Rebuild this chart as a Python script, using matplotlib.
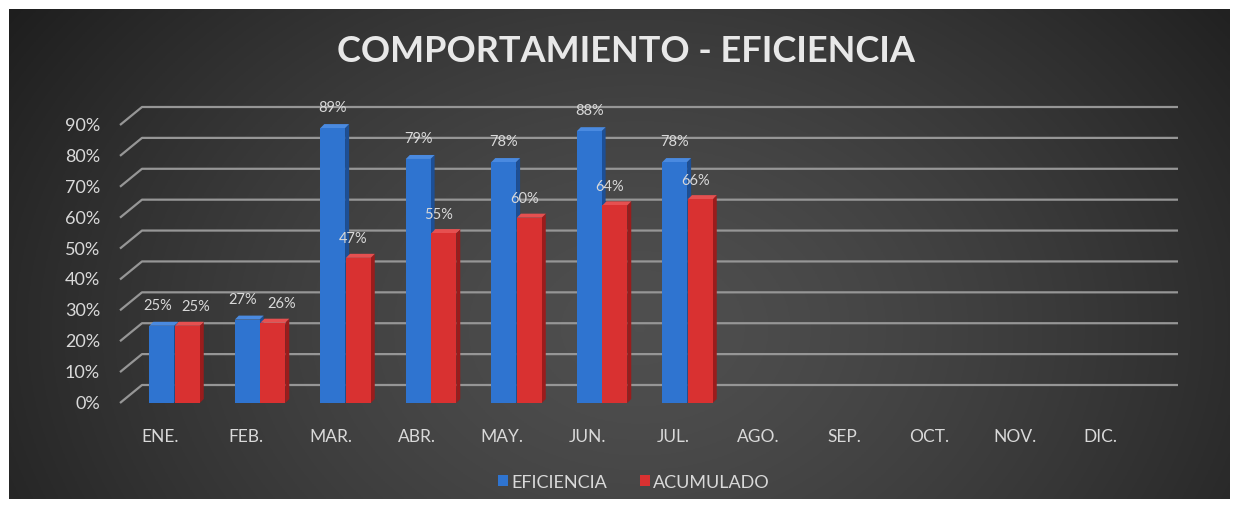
import numpy as np
import matplotlib
matplotlib.use("Agg")
import matplotlib.pyplot as plt
from matplotlib.patches import Polygon, Rectangle

# ---- data ----
months = ["ENE.", "FEB.", "MAR.", "ABR.", "MAY.", "JUN.", "JUL.", "AGO.", "SEP.", "OCT.", "NOV.", "DIC."]
eficiencia = [0.25, 0.27, 0.89, 0.79, 0.78, 0.88, 0.78]
acumulado = [0.25, 0.26, 0.47, 0.55, 0.60, 0.64, 0.66]
yticks = [0.0, 0.1, 0.2, 0.3, 0.4, 0.5, 0.6, 0.7, 0.8, 0.9]
title = "COMPORTAMIENTO - EFICIENCIA"
series_names = ["EFICIENCIA", "ACUMULADO"]

W, H = 1237, 510
fig = plt.figure(figsize=(W / 100, H / 100), dpi=100)
fig.patch.set_facecolor("white")
plt.rcParams['font.family'] = ['Lato', 'DejaVu Sans']

# background radial gradient panel
bx0, bx1, by0, by1 = 9, 1230, 10, 500
bg = fig.add_axes([bx0 / W, 1 - by1 / H, (bx1 - bx0) / W, (by1 - by0) / H])
gx = np.linspace(bx0, bx1, 500)
gy = np.linspace(by0, by1, 220)
X, Y = np.meshgrid(gx, gy)
r = np.sqrt(((X - 640) / 700) ** 2 + ((Y - 330) / 520) ** 2)
val = 0.31 - 0.17 * np.clip(r, 0, 1.2) ** 1.4
val = np.clip(val, 0.12, 0.35)
img = np.dstack([val, val, val])
bg.imshow(img, aspect="auto", extent=[0, 1, 1, 0])
bg.set_xlim(0, 1)
bg.set_ylim(1, 0)
bg.set_axis_off()

# plot axes: pixel geometry
px_left, px_right = 120, 1178
px_y0, px_y90 = 404, 126
cat_px = 85.5
x_first = 160
ax = fig.add_axes([px_left / W, 1 - px_y0 / H, (px_right - px_left) / W, (px_y0 - px_y90) / H])
ax.set_facecolor("none")
xmin = (px_left - x_first) / cat_px
xmax = (px_right - x_first) / cat_px
ax.set_xlim(xmin, xmax)
ax.set_ylim(0, 0.9)
yscale = (px_y0 - px_y90) / 0.9  # px per unit

# gridlines with 3D back-plane offset
ddx = 22 / cat_px
ddy = 18 / yscale
for v in yticks:
    ax.plot([xmin, xmin + ddx, xmax], [v, v + ddy, v + ddy], color="#969696", lw=1.6,
            clip_on=False, zorder=1, solid_capstyle="butt")
    ax.text(xmin - 20 / cat_px, v, f"{int(round(v * 100))}%", ha="right", va="center",
            color="#d9d9d9", fontsize=13, clip_on=False)

for spine in ax.spines.values():
    spine.set_visible(False)
ax.set_yticks([])
ax.set_xticks(range(len(months)))
ax.set_xticklabels(months, color="#d9d9d9", fontsize=12.5)
ax.tick_params(axis="x", length=0, pad=18)

bw = 0.29
sx = 4 / cat_px
sy = 4 / yscale
blue_front, blue_side, blue_top = "#2f74d0", "#1d4f95", "#4a8ae0"
red_front, red_side, red_top = "#d93131", "#9a1c1c", "#e65050"


def bar3d(xc, h, front, side, top):
    x0, x1 = xc - bw / 2, xc + bw / 2
    ax.add_patch(Polygon([[x1, 0], [x1 + sx, sy], [x1 + sx, h + sy], [x1, h]], closed=True,
                         facecolor=side, edgecolor="none", zorder=3, clip_on=False))
    ax.add_patch(Polygon([[x0, h], [x1, h], [x1 + sx, h + sy], [x0 + sx, h + sy]], closed=True,
                         facecolor=top, edgecolor="none", zorder=3, clip_on=False))
    ax.add_patch(Rectangle((x0, 0), bw, h, facecolor=front, edgecolor="none", zorder=4,
                           clip_on=False))


off_b, off_r = 0.02, 0.32
for i, (e, a) in enumerate(zip(eficiencia, acumulado)):
    bar3d(i + off_b, e, blue_front, blue_side, blue_top)
    bar3d(i + off_r, a, red_front, red_side, red_top)
    close = abs(e - a) < 0.05
    nb = -0.05 if close else 0.0
    nr = 0.10 if close else -0.06
    ax.annotate(f"{int(round(e * 100))}%", (i + off_b + nb, e), xytext=(0, 15), textcoords="offset points",
                ha="center", va="center", color="#d9d9d9", fontsize=10.5, zorder=6)
    ax.annotate(f"{int(round(a * 100))}%", (i + off_r + nr, a), xytext=(0, 14), textcoords="offset points",
                ha="center", va="center", color="#d9d9d9", fontsize=10.5, zorder=6)

# title
fig.text(626 / W, 1 - 52 / H, title, ha="center", va="center", color="#e8e8e8",
         fontsize=26, fontweight="bold")

# legend
hb = Rectangle((0, 0), 1, 1, facecolor=blue_front, edgecolor="none")
hr = Rectangle((0, 0), 1, 1, facecolor=red_front, edgecolor="none")
leg = fig.legend([hb, hr], series_names, loc="center", bbox_to_anchor=(634 / W, 1 - 483 / H),
                 ncol=2, frameon=False, fontsize=13, labelcolor="#d9d9d9",
                 handlelength=0.55, handleheight=0.55, handletextpad=0.2, columnspacing=1.8)

fig.savefig("out.png", dpi=100, facecolor="white")
